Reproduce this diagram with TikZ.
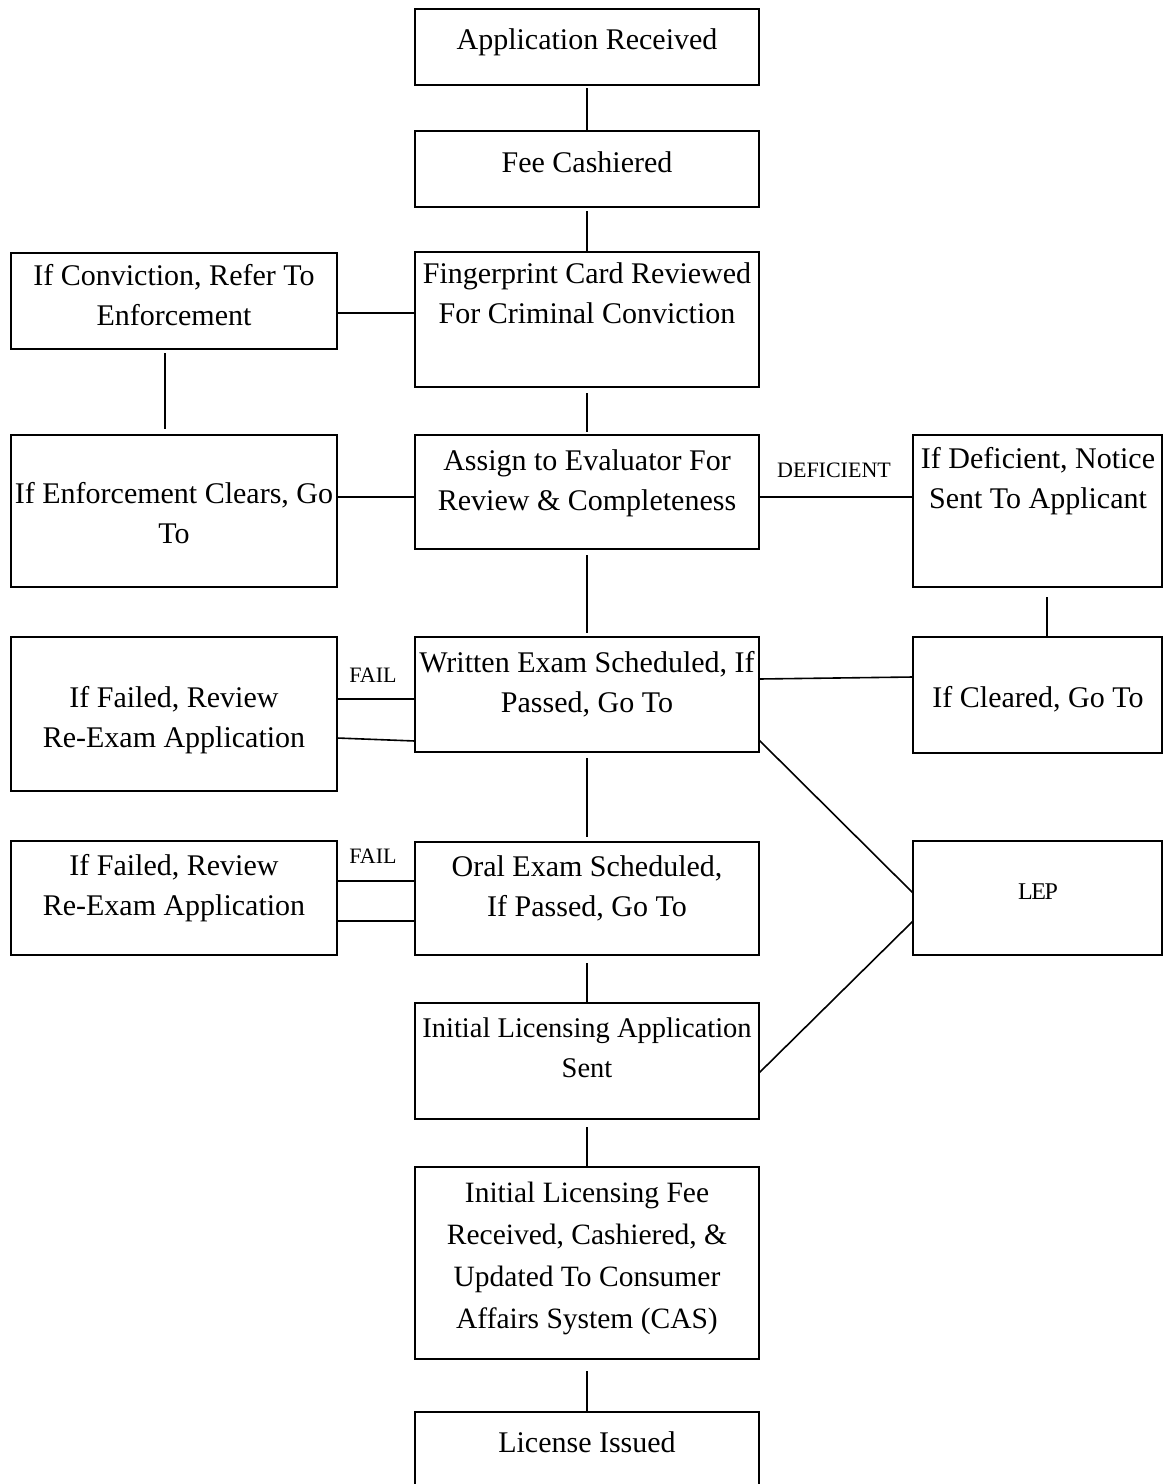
\documentclass[tikz,border=0pt]{standalone}
\usepackage{fontspec}
\setmainfont{Liberation Serif}
\begin{document}
\begin{tikzpicture}[x=1pt,y=-1pt,
  box/.style={draw, line width=1.6pt, rectangle, inner sep=0pt, outer sep=0pt},
  conn/.style={line width=1.6pt},
  txt/.style={anchor=north, inner sep=0pt, align=center, font=\fontsize{30}{40}\selectfont},
  txtfour/.style={anchor=north, inner sep=0pt, align=center, font=\fontsize{29.5}{42}\selectfont},
  lbl/.style={anchor=base, inner sep=0pt, font=\fontsize{22}{26}\selectfont}]
\useasboundingbox (0,0) rectangle (1163,1484);
\fill[white] (0,0) rectangle (1163,1484);
\clip (0,0) rectangle (1163,1484);
% centre column
\node[box, minimum width=344pt, minimum height=76pt]  (app)     at (587,47) {};
\node[box, minimum width=344pt, minimum height=76pt]  (fee)     at (587,169) {};
\node[box, minimum width=344pt, minimum height=135pt] (fp)      at (587,319.5) {};
\node[box, minimum width=344pt, minimum height=114pt] (assign)  at (587,492) {};
\node[box, minimum width=344pt, minimum height=115pt] (written) at (587,694.5) {};
\node[box, minimum width=344pt, minimum height=113pt] (oral)    at (587,898.5) {};
\node[box, minimum width=344pt, minimum height=116pt] (initapp) at (587,1061) {};
\node[box, minimum width=344pt, minimum height=192pt] (initfee) at (587,1263) {};
\node[box, minimum width=344pt, minimum height=88pt]  (lic)     at (587,1456) {};
% left column
\node[box, minimum width=326pt, minimum height=96pt]  (conv)  at (174,301) {};
\node[box, minimum width=326pt, minimum height=152pt] (enf)   at (174,511) {};
\node[box, minimum width=326pt, minimum height=154pt] (fail1) at (174,714) {};
\node[box, minimum width=326pt, minimum height=114pt] (fail2) at (174,898) {};
% right column
\node[box, minimum width=249pt, minimum height=152pt] (defic)   at (1037.5,511) {};
\node[box, minimum width=249pt, minimum height=116pt] (cleared) at (1037.5,695) {};
\node[box, minimum width=249pt, minimum height=114pt] (lep)     at (1037.5,898) {};
% texts
\node[txt] (app-t)     at (587,21)  {\strut Application Received};
\node[txt] (fee-t)     at (587,144) {\strut Fee Cashiered};
\node[txt] (fp-t)      at (587,255) {\strut Fingerprint Card Reviewed\\For Criminal Conviction};
\node[txt] (conv-t)    at (174,257) {\strut If Conviction, Refer To\\Enforcement};
\node[txt] (assign-t)  at (587,442) {\strut Assign to Evaluator For\\Review \& Completeness};
\node[txt] (enf-t)     at (174,475) {\strut If Enforcement Clears, Go\\To};
\node[txt] (defic-t)   at (1038,440) {\strut If Deficient, Notice\\Sent To Applicant};
\node[txt] (written-t) at (587,644) {\strut Written Exam Scheduled, If\\Passed, Go To};
\node[txt] (cleared-t) at (1038,679) {\strut If Cleared, Go To};
\node[txt] (fail1-t)   at (174,679) {\strut If Failed, Review\\Re-Exam Application};
\node[txt] (fail2-t)   at (174,847) {\strut If Failed, Review\\Re-Exam Application};
\node[txt] (oral-t)    at (587,848) {\strut Oral Exam Scheduled,\\If Passed, Go To};
\node[txt, font=\fontsize{28.5}{40}\selectfont] (initapp-t) at (587,1009) {\strut Initial Licensing Application\\Sent};
\node[txtfour] (initfee-t) at (587,1172.6) {\strut Initial Licensing Fee\\Received, Cashiered, \&\\Updated To Consumer\\Affairs System (CAS)};
\node[txt] (lic-t)     at (587,1424) {\strut License Issued};
\node[lbl, font=\fontsize{24}{28}\selectfont] (lep-t) at (1038,899) {L\kern-1.5pt E\kern-1.5pt P};
% connectors
\draw[conn] ([yshift=-3pt]app.south) -- (fee.north);
\draw[conn] ([yshift=-4pt]fee.south) -- (fp.north);
\draw[conn] ([yshift=-6pt]fp.south) -- ([yshift=3pt]assign.north);
\draw[conn] ([yshift=-6pt]assign.south) -- ([yshift=4pt]written.north);
\draw[conn] ([yshift=-6pt]written.south) -- ([yshift=5pt]oral.north);
\draw[conn] ([yshift=-8pt]oral.south) -- (initapp.north);
\draw[conn] ([yshift=-8pt]initapp.south) -- (initfee.north);
\draw[conn] ([yshift=-12pt]initfee.south) -- (lic.north);
\draw[conn] ([xshift=-9pt,yshift=-4pt]conv.south) -- ([xshift=-9pt,yshift=6pt]enf.north);
\draw[conn] ([xshift=9.5pt,yshift=-10pt]defic.south) -- ([xshift=9.5pt]cleared.north);
\draw[conn] (conv.east |- 0,313) -- (fp.west |- 0,313);
\draw[conn] (enf.east |- 0,497) -- (assign.west |- 0,497);
\draw[conn] (assign.east |- 0,497) -- node[lbl, anchor=base, yshift=20pt, xshift=-2pt] (defic-l) {DEFICIENT} (defic.west |- 0,497);
\draw[conn] (written.east |- 0,679) -- (cleared.west |- 0,677);
\draw[conn] (fail1.east |- 0,699) -- (written.west |- 0,699);
\draw[conn] (fail1.east |- 0,738) -- (written.west |- 0,741);
\draw[conn] (fail2.east |- 0,881) -- (oral.west |- 0,881);
\draw[conn] (fail2.east |- 0,921) -- (oral.west |- 0,921);
\draw[conn] (written.east |- 0,740) -- (lep.west |- 0,893);
\draw[conn] (initapp.east |- 0,1073) -- (lep.west |- 0,921);
\node[lbl] (fail1-l) at (373,682) {FAIL};
\node[lbl] (fail2-l) at (373,863) {FAIL};
\end{tikzpicture}
\end{document}
